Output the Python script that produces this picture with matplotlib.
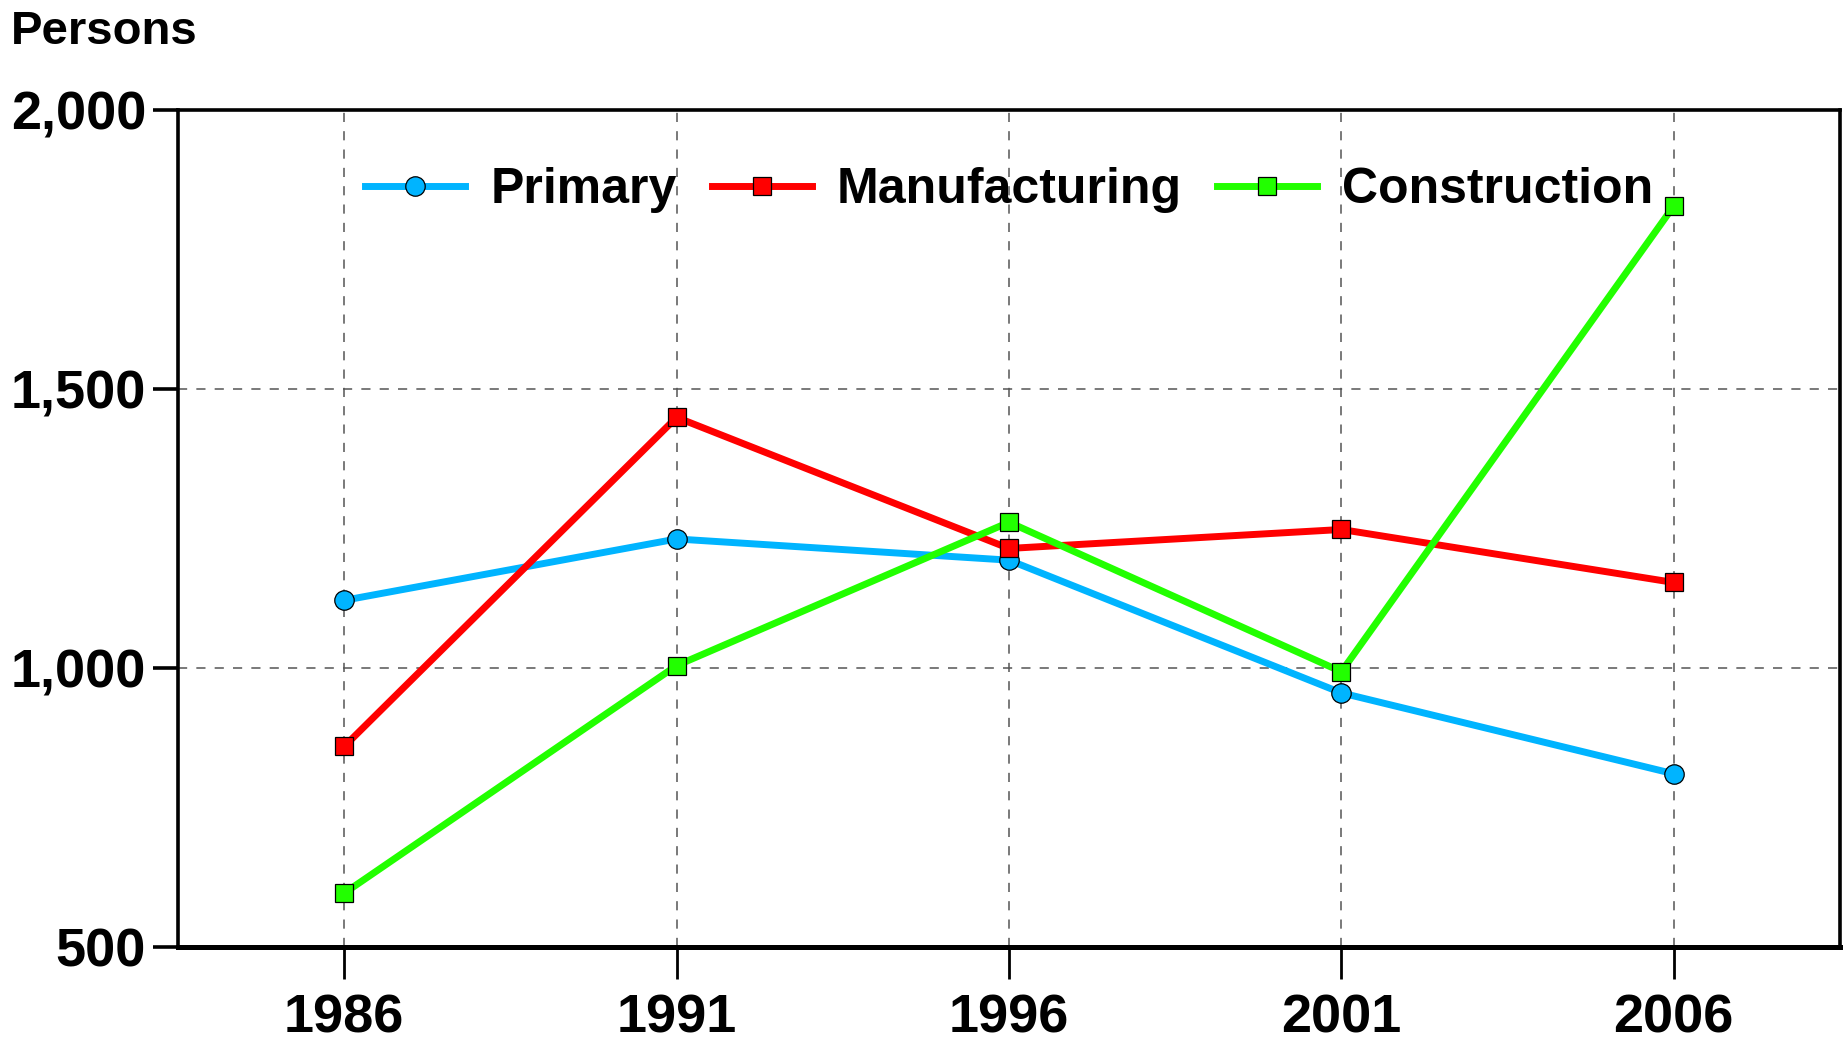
import matplotlib.pyplot as plt
from matplotlib.ticker import FuncFormatter

plt.rcParams['font.family'] = ['Liberation Sans', 'DejaVu Sans']
plt.rcParams['font.weight'] = 'bold'

years = [1986, 1991, 1996, 2001, 2006]
primary = [1121, 1231, 1193, 955, 810]
manufacturing = [859, 1449, 1214, 1248, 1153]
construction = [596, 1004, 1261, 993, 1828]

fig = plt.figure(figsize=(18.47, 10.44), dpi=100)
ax = fig.add_axes([0.0964, 0.0932, 0.8998, 0.8014])

ax.plot(years, primary, color="#00b4ff", lw=5, marker="o", ms=14,
        mfc="#00b4ff", mec="black", mew=0.9, label="Primary", zorder=3)
ax.plot(years, manufacturing, color="#ff0000", lw=5, marker="s", ms=13,
        mfc="#ff0000", mec="black", mew=0.9, label="Manufacturing", zorder=3)
ax.plot(years, construction, color="#22ff00", lw=5, marker="s", ms=13,
        mfc="#22ff00", mec="black", mew=0.9, label="Construction", zorder=3)

ax.set_xlim(1983.5, 2008.5)
ax.set_ylim(500, 2000)
ax.set_xticks(years)
ax.set_yticks([500, 1000, 1500, 2000])
ax.yaxis.set_major_formatter(FuncFormatter(lambda v, p: f"{int(v):,}"))

ax.grid(True, color="#555555", lw=1.1, linestyle=(0, (6, 6)))
ax.set_axisbelow(True)

for s in ax.spines.values():
    s.set_linewidth(2.6)
ax.spines["bottom"].set_linewidth(3.6)

ax.tick_params(axis="x", direction="out", length=23, width=2, pad=11, labelsize=39)
ax.tick_params(axis="y", direction="out", length=18, width=2.6, pad=5, labelsize=39)
for lab in ax.get_xticklabels() + ax.get_yticklabels():
    lab.set_fontweight("bold")

leg = ax.legend(loc="center", bbox_to_anchor=(0.5, 0.904), ncol=3, frameon=False,
                fontsize=36, handlelength=2.0, handletextpad=0.5, columnspacing=0.7)
for t in leg.get_texts():
    t.set_fontweight("bold")

fig.text(0.006, 0.99, "Persons", fontsize=34, fontweight="bold", ha="left", va="top")

fig.savefig("out.png", dpi=100)
